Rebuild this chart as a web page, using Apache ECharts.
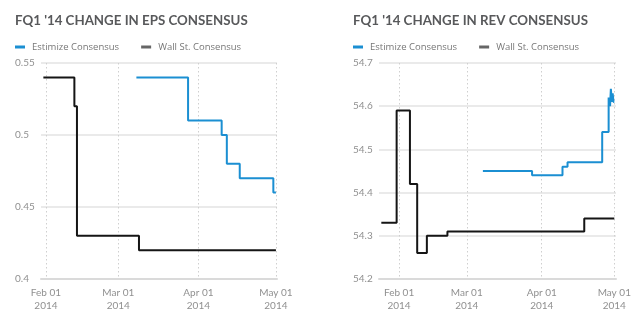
<!DOCTYPE html>
<html>
<head>
<meta charset="utf-8">
<script src="https://cdn.jsdelivr.net/npm/echarts@6/dist/echarts.min.js"></script>
<style>
html,body{margin:0;padding:0;background:#fff;}
#c{width:640px;height:325px;}
</style>
</head>
<body>
<div id="c"></div>
<script>
// ---- data ----
var titles = ["FQ1 '14 CHANGE IN EPS CONSENSUS", "FQ1 '14 CHANGE IN REV CONSENSUS"];
var seriesNames = ["Estimize Consensus", "Wall St. Consensus"];
var xTickDates = ["2014-02-01", "2014-03-01", "2014-04-01", "2014-05-01"];
var epsYTicks = [0.4, 0.45, 0.5, 0.55];
var revYTicks = [54.2, 54.3, 54.4, 54.5, 54.6, 54.7];

// EPS consensus steps: [date of change, new value]
var epsEstimizeDates = ["2014-03-08", "2014-03-28", "2014-04-10", "2014-04-12", "2014-04-17", "2014-04-30", "2014-05-01"];
var epsEstimizeValues = [0.54, 0.51, 0.50, 0.48, 0.47, 0.46, 0.46];
var epsWallStDates = ["2014-01-31", "2014-02-12", "2014-02-13", "2014-03-09", "2014-05-01"];
var epsWallStValues = [0.54, 0.52, 0.43, 0.42, 0.42];

// Revenue consensus steps
var revEstimizeDates = ["2014-03-07 16:00", "2014-03-28", "2014-04-09 14:00", "2014-04-11 16:00", "2014-04-26", "2014-04-28 16:00",
  "2014-04-29 06:00", "2014-04-29 14:00", "2014-04-30", "2014-04-30 08:00", "2014-04-30 16:00", "2014-05-01"];
var revEstimizeValues = [54.45, 54.44, 54.46, 54.47, 54.54, 54.62, 54.60, 54.64, 54.61, 54.63, 54.61, 54.61];
var revWallStDates = ["2014-01-24 16:00", "2014-01-31", "2014-02-05 12:00", "2014-02-08 12:00", "2014-02-12 12:00", "2014-02-21", "2014-04-18 14:00", "2014-05-01"];
var revWallStValues = [54.33, 54.59, 54.42, 54.26, 54.30, 54.31, 54.34, 54.34];

// ---- chart ----
var BLUE = '#1b8fd2', BLACK = '#151515';
var MONTHS = ['Jan','Feb','Mar','Apr','May','Jun','Jul','Aug','Sep','Oct','Nov','Dec'];
function ts(s){ return +echarts.time.parse(s); }
function zip(d, v){ return d.map(function(x,i){ return [ts(x), v[i]]; }); }
var tickVals = xTickDates.map(ts);
function pad(n){ return (n<10?'0':'')+n; }
function xFmt(v){ var d = new Date(v); return MONTHS[d.getMonth()] + ' ' + pad(d.getDate()) + '\n' + d.getFullYear(); }

var FONT = 'Lato';
function xAxis(idx, min, max){
  return {
    type: 'value', gridIndex: idx, min: ts(min), max: ts(max),
    axisLine: {show: true, lineStyle: {color: '#dadada', width: 2}},
    axisTick: {show: false, customValues: tickVals},
    axisLabel: {customValues: tickVals, formatter: xFmt, color: '#909090', fontSize: 10, fontFamily: FONT, margin: 7, lineHeight: 13},
    splitLine: {show: true, lineStyle: {color: '#cfcfcf', type: [1.5, 2.5], width: 1}}
  };
}
function yAxis(idx, ticks){
  return {
    type: 'value', gridIndex: idx, min: ticks[0], max: ticks[ticks.length-1], interval: +(ticks[1]-ticks[0]).toFixed(4),
    axisLine: {show: false}, axisTick: {show: false},
    axisLabel: {align: 'left', margin: 26, color: '#909090', fontSize: 10, fontFamily: FONT},
    splitLine: {lineStyle: {color: '#e3e3e3', width: 1.5}}
  };
}
function lineSeries(name, idx, data, color){
  return {name: name, type: 'line', step: 'end', xAxisIndex: idx, yAxisIndex: idx, data: data,
    symbol: 'none', lineStyle: {color: color, width: 2}, itemStyle: {color: color}, animation: false};
}
function legend(left){
  return {left: left, top: 42, padding: 0, icon: 'rect', itemWidth: 10, itemHeight: 3, itemGap: 22,
    textStyle: {color: '#777', fontSize: 9.5, fontFamily: 'Open Sans', padding: [0,0,0,2]},
    data: [{name: seriesNames[0], itemStyle: {color: BLUE}}, {name: seriesNames[1], itemStyle: {color: '#666'}}]};
}

var chart = echarts.init(document.getElementById('c'), null, {renderer: 'canvas'});
chart.setOption({
  animation: false,
  backgroundColor: '#fff',
  title: [
    {text: titles[0], left: 10, top: 9, textStyle: {color: '#58595b', fontSize: 13.3, fontWeight: 'bold', fontFamily: FONT}},
    {text: titles[1], left: 348, top: 9, textStyle: {color: '#58595b', fontSize: 13.3, fontWeight: 'bold', fontFamily: FONT}}
  ],
  legend: [legend(15), legend(353)],
  grid: [
    {left: 41, right: 363, top: 63, bottom: 46},
    {left: 379, right: 24, top: 63, bottom: 46}
  ],
  xAxis: [xAxis(0, '2014-01-30 02:00', '2014-05-01 10:00'), xAxis(1, '2014-01-23 17:00', '2014-05-01 17:00')],
  yAxis: [yAxis(0, epsYTicks), yAxis(1, revYTicks)],
  series: [
    lineSeries(seriesNames[1], 0, zip(epsWallStDates, epsWallStValues), BLACK),
    lineSeries(seriesNames[0], 0, zip(epsEstimizeDates, epsEstimizeValues), BLUE),
    lineSeries(seriesNames[1], 1, zip(revWallStDates, revWallStValues), BLACK),
    lineSeries(seriesNames[0], 1, zip(revEstimizeDates, revEstimizeValues), BLUE)
  ]
});
</script>
</body>
</html>
